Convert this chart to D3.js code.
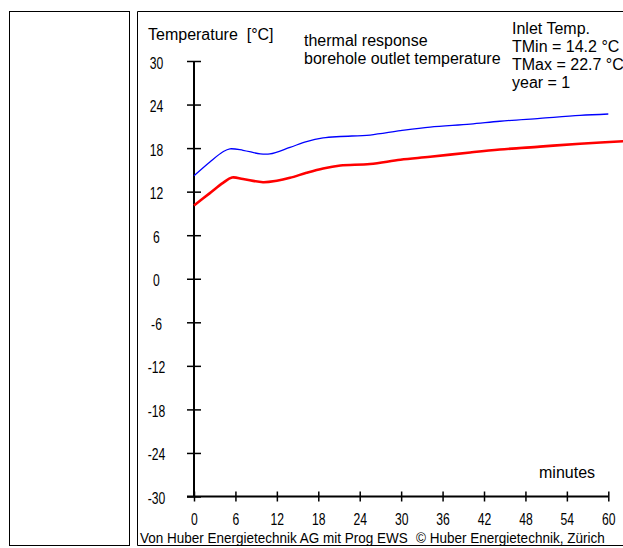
<!DOCTYPE html>
<html>
<head>
<meta charset="utf-8">
<script src="https://cdn.jsdelivr.net/npm/d3@7"></script>
<style>
html,body{margin:0;padding:0;background:#fff;}
svg{display:block;}
text{white-space:pre;}
</style>
</head>
<body>
<script>
// ---- data ----
const xTicks = [0, 6, 12, 18, 24, 30, 36, 42, 48, 54, 60];
const yTicks = [-30, -24, -18, -12, -6, 0, 6, 12, 18, 24, 30];

const inletTime = [0, 2.3, 4.2, 5.2, 7.1, 9.6, 11, 13.9, 16.3, 18.7, 21.2, 25.5, 29.9, 34.2, 40, 44.3, 50.1, 55.9, 60];
const inletTemp = [14.2, 16.1, 17.5, 17.9, 17.7, 17.2, 17.2, 18.1, 18.9, 19.4, 19.6, 19.8, 20.4, 20.9, 21.3, 21.7, 22.1, 22.5, 22.7];

const outletTime = [0, 2.3, 4.2, 5.5, 7.1, 10, 12, 13.9, 16.3, 18.7, 21.2, 25.5, 29.9, 34.2, 40, 44.3, 50.1, 55.9, 63];
const outletTemp = [10.1, 11.8, 13.2, 13.95, 13.75, 13.3, 13.5, 13.9, 14.6, 15.2, 15.6, 15.8, 16.4, 16.8, 17.4, 17.8, 18.2, 18.6, 19.0];

const titleLines = ["thermal response", "borehole outlet temperature"];
const infoLines = ["Inlet Temp.", "TMin = 14.2 °C", "TMax = 22.7 °C", "year = 1"];
const yTitle = "Temperature  [°C]";
const xTitle = "minutes";
const footer1 = "Von Huber Energietechnik AG mit Prog EWS";
const footer2 = "© Huber Energietechnik, Zürich";

// ---- drawing ----
const W = 623, H = 548;
const sans = "'Liberation Sans',Arial,sans-serif";
const SX = 0.76; // horizontal squeeze for the narrow tick font

const svg = d3.select("body").append("svg").attr("width", W).attr("height", H);

// frames
svg.append("rect").attr("x", 9.5).attr("y", 11.5).attr("width", 120).attr("height", 534)
  .attr("fill", "none").attr("stroke", "#000").attr("stroke-width", 1);
svg.append("path").attr("d", "M623,11.5H137.5V545.5H623")
  .attr("fill", "none").attr("stroke", "#000").attr("stroke-width", 1);

const x = d3.scaleLinear().domain([0, 60]).range([194, 608.3]);
const y = d3.scaleLinear().domain([-30, 30]).range([496.5, 61]);

svg.append("clipPath").attr("id", "clip").append("rect")
  .attr("x", 138).attr("y", 12).attr("width", W - 138).attr("height", 530);

const line = d3.line().curve(d3.curveCatmullRom.alpha(0.5)).x(d => x(d[0])).y(d => y(d[1]));
const outlet = outletTime.map((t, i) => [t, outletTemp[i]]);
const inlet = inletTime.map((t, i) => [t, inletTemp[i]]);

// Y axis
const yAxis = d3.axisLeft(y).tickValues(yTicks).tickSize(0).tickFormat("");
const gy = svg.append("g").attr("transform", "translate(194,0)").call(yAxis);
gy.select(".domain").attr("stroke", "#000").attr("stroke-width", 2).attr("d", `M0,${y(30)}V${y(-30)}`);
gy.selectAll(".tick").append("line").attr("x1", -7).attr("x2", 7).attr("stroke", "#000").attr("stroke-width", 1.5);
gy.selectAll(".tick").append("g").attr("transform", `translate(-37.5,7) scale(${SX},1)`)
  .append("text").attr("text-anchor", "middle").attr("fill", "#000")
  .style("font-family", sans).style("font-size", "16px").text(d => d);

// X axis
const xAxis = d3.axisBottom(x).tickValues(xTicks).tickSize(0).tickFormat("");
const gx = svg.append("g").attr("transform", `translate(0,${y(-30)})`).call(xAxis);
gx.select(".domain").attr("stroke", "#000").attr("stroke-width", 2).attr("d", `M187,0H${x(60)}`);
gx.selectAll(".tick").append("line").attr("y1", -5).attr("y2", 5).attr("stroke", "#000").attr("stroke-width", 1.5);
gx.selectAll(".tick").append("g").attr("transform", `translate(0,28.5) scale(${SX},1)`)
  .append("text").attr("text-anchor", "middle").attr("fill", "#000")
  .style("font-family", sans).style("font-size", "16px").text(d => d);

// curves
svg.append("path").datum(outlet).attr("d", line).attr("clip-path", "url(#clip)")
  .attr("fill", "none").attr("stroke", "#ff0000").attr("stroke-width", 2.6);
svg.append("path").datum(inlet).attr("d", line).attr("clip-path", "url(#clip)")
  .attr("fill", "none").attr("stroke", "#0000ff").attr("stroke-width", 1.3);

// texts
const t = svg.append("g").attr("fill", "#000").style("font-family", sans).style("font-size", "16px");
t.append("text").attr("x", 148).attr("y", 40).text(yTitle);
titleLines.forEach((s, i) => t.append("text").attr("x", 304).attr("y", 46 + i * 18).text(s));
infoLines.forEach((s, i) => t.append("text").attr("x", 512).attr("y", 34 + i * 18).text(s));
t.append("text").attr("x", 539).attr("y", 478).text(xTitle);

// footer (squeezed to the reference widths with a horizontal scale)
svg.append("rect").attr("x", 139.5).attr("y", 530).attr("width", 466).attr("height", 15).attr("fill", "#fff");
function footerText(str, x0, width) {
  const g = svg.append("g");
  const tx = g.append("text").attr("x", 0).attr("y", 0).attr("fill", "#000")
    .style("font-family", sans).style("font-size", "15px").text(str);
  const natural = tx.node().getComputedTextLength();
  g.attr("transform", `translate(${x0},543) scale(${width / natural},1)`);
}
footerText(footer1, 140, 268);
footerText(footer2, 416, 189);
</script>
</body>
</html>
